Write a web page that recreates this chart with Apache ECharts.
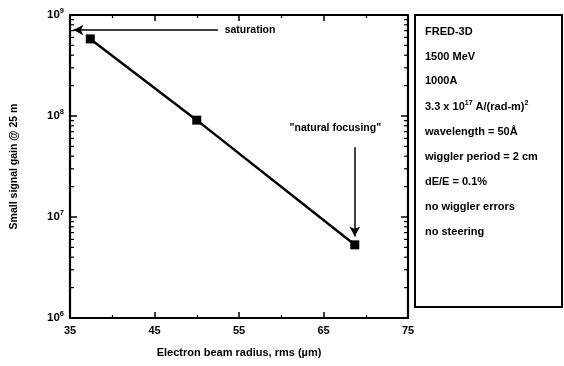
<!DOCTYPE html>
<html>
<head>
<meta charset="utf-8">
<script src="https://cdn.jsdelivr.net/npm/echarts@6/dist/echarts.min.js"></script>
<style>html,body{margin:0;padding:0;background:#fff;}#c{width:564px;height:366px;}</style>
</head>
<body>
<div id="c"></div>
<script>
// Data
const radius = [37.4, 50.0, 68.7];
const gain = [5.8e8, 9.1e7, 5.3e6];
const xTicks = [35, 45, 55, 65, 75];
const yExponents = [6, 7, 8, 9];
const saturationLine = [[52.5, 7.1e8], [35.4, 7.1e8]];
const focusArrow = [[68.7, 4.9e7], [68.7, 6.4e6]];
const saturationLabel = [53.3, 7.1e8];
const focusLabel = [66.4, 7.6e7];
const infoLines = [
  'FRED-3D',
  '1500 MeV',
  '1000A',
  '3.3 x 10{s|17} A/(rad-m){s|2}',
  'wavelength = 50Å',
  'wiggler period = 2 cm',
  'dE/E = 0.1%',
  'no wiggler errors',
  'no steering'
];

const FONT = 'Liberation Sans';
const minorVals = [];
for (let e = yExponents[0]; e < yExponents[yExponents.length - 1]; e++) {
  for (let m = 2; m <= 9; m++) minorVals.push([m * Math.pow(10, e)]);
}

const chart = echarts.init(document.getElementById('c'));
const xAxisBase = {
  type: 'value', min: xTicks[0], max: xTicks[xTicks.length - 1], interval: 10,
  axisLine: {show: true, lineStyle: {color: '#000', width: 2.2}},
  axisTick: {show: true, inside: true, length: 6, lineStyle: {color: '#000', width: 1.5}},
  minorTick: {show: true, splitNumber: 2, length: 3, lineStyle: {color: '#000', width: 1.2}},
  splitLine: {show: false}
};
const yAxisBase = {
  type: 'log', min: Math.pow(10, yExponents[0]), max: Math.pow(10, yExponents[yExponents.length - 1]), logBase: 10,
  axisLine: {show: true, lineStyle: {color: '#000', width: 2.2}},
  axisTick: {show: true, inside: true, length: 7, lineStyle: {color: '#000', width: 1.5}},
  splitLine: {show: false}
};

const infoGraphics = [{
  type: 'rect', shape: {x: 415, y: 15, width: 147, height: 292},
  style: {fill: 'none', stroke: '#000', lineWidth: 2}
}];
const infoY = [33, 58, 82, 107, 133, 158, 183, 208, 233];
infoLines.forEach((t, i) => {
  infoGraphics.push({
    type: 'text', left: 425, top: infoY[i] - 7,
    style: {
      text: t, fill: '#000', font: 'bold 11px "' + FONT + '"',
      rich: {s: {fontSize: 7, fontWeight: 'bold', fontFamily: FONT, padding: [0, 0, 7, 0]}}
    }
  });
});

chart.setOption({
  animation: false,
  backgroundColor: '#fff',
  textStyle: {fontFamily: FONT, color: '#000'},
  grid: {left: 70, right: 156, top: 15, bottom: 48, show: false},
  xAxis: [
    Object.assign({}, xAxisBase, {
      position: 'bottom',
      name: 'Electron beam radius, rms (µm)', nameLocation: 'middle', nameGap: 29,
      nameTextStyle: {fontSize: 11, fontWeight: 'bold', color: '#000', fontFamily: FONT},
      axisLabel: {fontSize: 11, fontWeight: 'bold', color: '#000', margin: 7, fontFamily: FONT}
    }),
    Object.assign({}, xAxisBase, {position: 'top', axisLabel: {show: false}})
  ],
  yAxis: [
    Object.assign({}, yAxisBase, {
      position: 'left',
      name: 'Small signal gain @ 25 m', nameLocation: 'middle', nameGap: 50,
      nameTextStyle: {fontSize: 10.5, fontWeight: 'bold', color: '#000', fontFamily: FONT},
      axisLabel: {
        margin: 6, color: '#000',
        formatter: v => '{b|10}{e|' + Math.round(Math.log10(v)) + '}',
        rich: {
          b: {fontSize: 11.5, fontWeight: 'bold', fontFamily: FONT, color: '#000'},
          e: {fontSize: 7.5, fontWeight: 'bold', fontFamily: FONT, color: '#000', padding: [0, 0, 8, 0]}
        }
      }
    }),
    Object.assign({}, yAxisBase, {position: 'right', axisLabel: {show: false}})
  ],
  graphic: infoGraphics,
  series: [
    {
      type: 'custom', xAxisIndex: 0, yAxisIndex: 0, silent: true,
      data: minorVals,
      renderItem: function (params, api) {
        const v = api.value(0);
        const pl = api.coord([xTicks[0], v]);
        const pr = api.coord([xTicks[xTicks.length - 1], v]);
        const st = {stroke: '#000', lineWidth: 1.2};
        return {type: 'group', children: [
          {type: 'line', shape: {x1: pl[0], y1: pl[1], x2: pl[0] + 4, y2: pl[1]}, style: st},
          {type: 'line', shape: {x1: pr[0], y1: pr[1], x2: pr[0] - 4, y2: pr[1]}, style: st}
        ]};
      }
    },
    {
      type: 'line', xAxisIndex: 0, yAxisIndex: 0,
      data: radius.map((x, i) => [x, gain[i]]),
      symbol: 'rect', symbolSize: 9,
      lineStyle: {color: '#000', width: 2.5},
      itemStyle: {color: '#000'},
      markLine: {
        silent: true, animation: false,
        label: {show: false},
        lineStyle: {color: '#000', width: 1.5, type: 'solid'},
        symbolSize: [8, 10],
        data: [
          [{coord: saturationLine[0], symbol: 'none'}, {coord: saturationLine[1], symbol: 'arrow'}],
          [{coord: focusArrow[0], symbol: 'none'}, {coord: focusArrow[1], symbol: 'arrow'}]
        ]
      },
      markPoint: {
        silent: true, animation: false,
        symbol: 'circle', symbolSize: 0,
        itemStyle: {color: 'rgba(0,0,0,0)'},
        data: [
          {coord: saturationLabel, label: {show: true, position: 'right', distance: 0, formatter: 'saturation', fontSize: 10.5, fontWeight: 'bold', color: '#000', fontFamily: FONT}},
          {coord: focusLabel, label: {show: true, position: 'inside', formatter: '"natural focusing"', fontSize: 10.5, fontWeight: 'bold', color: '#000', fontFamily: FONT}}
        ]
      }
    }
  ]
});
</script>
</body>
</html>
